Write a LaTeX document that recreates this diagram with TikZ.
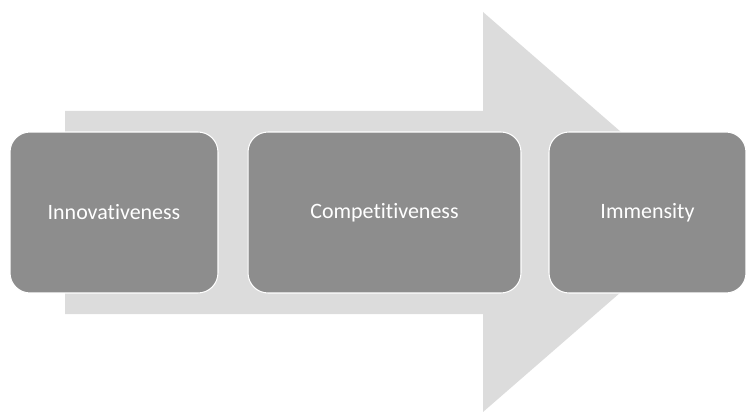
\documentclass[tikz,border=0pt]{standalone}
\usepackage{fontspec}
\setmainfont{Carlito}[Ligatures=NoCommon]
\definecolor{shaftgray}{RGB}{220,220,220}
\definecolor{stagegray}{RGB}{141,141,141}
\tikzset{stage/.style={draw=white, line width=0.6pt, fill=stagegray, rounded corners=0.4cm,
    text=white, font=\fontsize{12.5}{15}\selectfont, inner sep=0pt, minimum height=3.22cm}}
\begin{document}
\begin{tikzpicture}[x=0.02cm, y=-0.02cm]
	\useasboundingbox (0,0) rectangle (748,412);
	\fill[shaftgray] (65,111) -- (483,111) -- (483,12) -- (713,212) -- (483,412) -- (483,314) -- (65,314) --cycle;
	\node[stage, minimum width=4.16cm] (innov) at (114,212.5) {Innovativeness};
	\node[stage, minimum width=5.46cm] (compet) at (384.5,212.5) {Competitiveness};
	\node[stage, minimum width=3.94cm] (immens) at (647.5,212.5) {Immensity};
\end{tikzpicture}
\end{document}
